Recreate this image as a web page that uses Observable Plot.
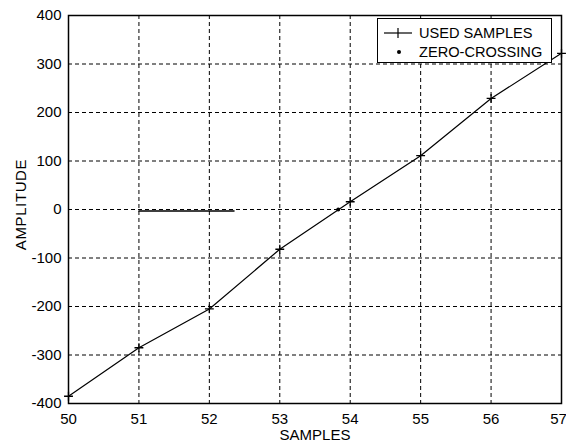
<!DOCTYPE html>
<html>
<head>
<meta charset="utf-8">
<script src="https://cdn.jsdelivr.net/npm/d3@7"></script>
<script src="https://cdn.jsdelivr.net/npm/@observablehq/plot@0.6"></script>
<style>
  html, body { margin: 0; padding: 0; background: #fff; }
  #wrap { position: relative; width: 566px; height: 442px; font-family: "Liberation Sans", Arial, sans-serif; }
  #legend {
    position: absolute; left: 377px; top: 18px; width: 175px; height: 45px;
    background: #fff; border: 1.5px solid #000; box-sizing: border-box;
    font-size: 14.6px; color: #000;
  }
  .row { position: absolute; left: 0; height: 18px; display: flex; align-items: center; }
  .row span { position: absolute; left: 41px; white-space: nowrap; }
</style>
</head>
<body>
<div id="wrap">
  <div id="chart"></div>
  <div id="legend">
    <div class="row" style="top:5px">
      <svg width="40" height="18" style="position:absolute;left:4px">
        <line x1="2" y1="9" x2="30" y2="9" stroke="#000" stroke-width="1.2"/>
        <line x1="16" y1="4" x2="16" y2="14" stroke="#000" stroke-width="1.2"/>
      </svg>
      <span id="l1"></span>
    </div>
    <div class="row" style="top:24px">
      <svg width="40" height="18" style="position:absolute;left:4px">
        <circle cx="17" cy="9" r="2" fill="#000"/>
      </svg>
      <span id="l2"></span>
    </div>
  </div>
</div>
<script>
// ---- data ----
const samples = [50, 51, 52, 53, 54, 55, 56, 57];
const amplitudes = [-385, -285, -205, -82, 16, 111, 229, 322];
const zeroCrossingX = [53.83];
const zeroCrossingY = [0];
const flatSegmentX = [51, 52.35];
const flatSegmentY = [-3, -3];
const xTicks = [50, 51, 52, 53, 54, 55, 56, 57];
const yTicks = [-400, -300, -200, -100, 0, 100, 200, 300, 400];
const legendLabels = ["USED SAMPLES", "ZERO-CROSSING"];
const xLabel = "SAMPLES";
const yLabel = "AMPLITUDE";

document.getElementById("l1").textContent = legendLabels[0];
document.getElementById("l2").textContent = legendLabels[1];

const curve = samples.map((s, i) => ({x: s, y: amplitudes[i]}));
const zc = zeroCrossingX.map((x, i) => ({x, y: zeroCrossingY[i]}));
const flat = flatSegmentX.map((x, i) => ({x, y: flatSegmentY[i]}));

const plusSymbol = {
  draw(ctx, size) {
    const r = Math.sqrt(size) / 2;
    ctx.moveTo(-r, 0); ctx.lineTo(r, 0);
    ctx.moveTo(0, -r); ctx.lineTo(0, r);
  }
};

const lastX = xTicks[xTicks.length - 1];

const chart = Plot.plot({
  width: 566,
  height: 442,
  marginLeft: 68,
  marginRight: 5,
  marginTop: 15,
  marginBottom: 39,
  style: {fontFamily: "'Liberation Sans', Arial, sans-serif", fontSize: "15px", color: "#000", background: "#fff"},
  x: {domain: [50, 57]},
  y: {domain: [-400, 400]},
  marks: [
    Plot.gridX(xTicks, {stroke: "#000", strokeOpacity: 1, strokeDasharray: "4,3", strokeWidth: 1}),
    Plot.gridY(yTicks, {stroke: "#000", strokeOpacity: 1, strokeDasharray: "4,3", strokeWidth: 1}),
    Plot.axisX(xTicks.filter(t => t !== lastX), {tickSize: 0, tickPadding: 10, tickFormat: d => String(d),
      label: xLabel, labelAnchor: "center", labelOffset: 36, labelArrow: false}),
    Plot.axisX([lastX], {tickSize: 0, tickPadding: 10, tickFormat: d => String(d), dx: -3, label: null}),
    Plot.axisY(yTicks, {tickSize: 0, tickPadding: 7, tickFormat: d => String(d),
      label: yLabel, labelAnchor: "center", labelOffset: 53, labelArrow: false}),
    Plot.line(flat, {x: "x", y: "y", stroke: "#000", strokeWidth: 1.5}),
    Plot.line(curve, {x: "x", y: "y", stroke: "#000", strokeWidth: 1.2}),
    Plot.dot(curve, {x: "x", y: "y", symbol: plusSymbol, r: 5, stroke: "#000", strokeWidth: 1.3, fill: "none"}),
    Plot.dot(zc, {x: "x", y: "y", r: 2, fill: "#000", stroke: "none"}),
    Plot.frame({stroke: "#000", strokeWidth: 1.5})
  ]
});
chart.querySelectorAll("text").forEach(t => {
  if (t.textContent === yLabel) {
    t.setAttribute("letter-spacing", "0.6");
    t.setAttribute("dx", "5");
  }
});
document.getElementById("chart").appendChild(chart);
</script>
</body>
</html>
